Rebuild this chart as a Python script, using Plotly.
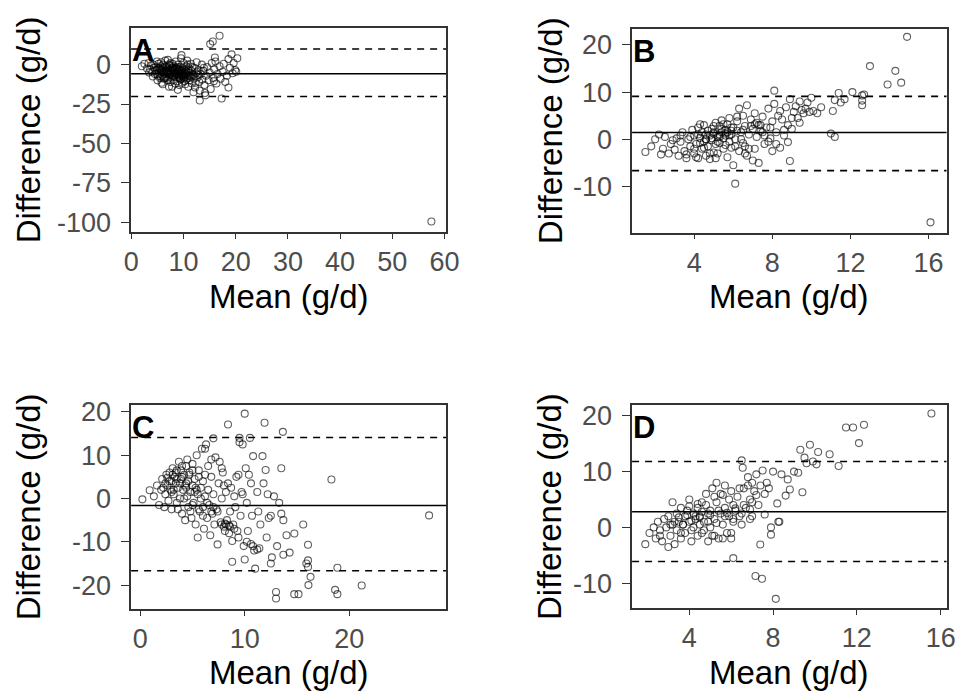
import plotly.graph_objects as go

# ---------------- Panel A ----------------
A_mean = [
    2.0, 2.5, 3.0, 3.3, 3.6, 3.8, 4.0, 4.2, 4.4, 4.5,
    4.7, 4.9, 5.0, 5.1, 5.2, 5.3, 5.4, 5.5, 5.6, 5.7,
    5.8, 5.9, 6.0, 6.1, 6.2, 6.3, 6.4, 6.5, 6.6, 6.7,
    6.8, 6.9, 7.0, 7.0, 7.1, 7.2, 7.3, 7.4, 7.5, 7.5,
    7.6, 7.7, 7.8, 7.9, 8.0, 8.0, 8.1, 8.2, 8.3, 8.4,
    8.5, 8.5, 8.6, 8.7, 8.8, 8.9, 9.0, 9.0, 9.1, 9.2,
    9.3, 9.4, 9.5, 9.5, 9.6, 9.7, 9.8, 9.9, 10.0, 10.0,
    10.1, 10.2, 10.3, 10.4, 10.5, 10.5, 10.6, 10.7, 10.8, 10.9,
    11.0, 11.1, 11.2, 11.3, 11.4, 11.5, 11.6, 11.8, 12.0, 12.1,
    12.2, 12.4, 12.5, 12.7, 12.9, 13.0, 13.1, 13.3, 13.5, 13.6,
    13.8, 14.0, 14.1, 14.3, 14.5, 15.1, 14.8, 15.0, 15.2, 15.4,
    15.6, 15.7, 15.9, 16.1, 16.3, 16.5, 16.9, 16.9, 17.1, 17.3,
    17.5, 17.7, 18.0, 18.3, 18.6, 18.9, 19.2, 19.4, 19.6, 19.9,
    20.1, 20.3, 13.1, 11.9, 7.2, 6.0, 8.9, 9.6, 14.2, 57.5,
    5.5, 6.2, 6.9, 7.6, 8.3, 9.0, 9.7, 10.4, 11.1, 12.6,
    4.6, 6.5, 7.3, 8.1, 8.8, 9.4, 10.2, 11.7, 12.3, 15.8,
    3.4, 4.1, 5.0, 5.8, 7.8, 9.2, 10.8, 13.9, 16.0, 18.6,
    5.3, 5.9, 6.4, 7.0, 7.7, 8.2, 8.7, 9.3, 9.9, 10.6,
    6.0, 6.7, 7.4, 8.0, 8.6, 9.1, 9.8, 10.3, 11.0, 11.9,
    4.9, 5.6, 6.3, 7.1, 7.9, 8.5, 9.2, 10.1, 10.9, 12.8,
]
A_diff = [
    -1.0, 0.5, -2.5, 1.0, -3.0, -0.5, -4.5, 0.0, -2.0, -6.0,
    -1.5, 2.0, -3.5, -7.0, 0.5, -5.0, -2.5, -8.5, -1.0, 1.5,
    -4.0, -6.5, -2.0, 0.0, -9.0, -3.0, -5.5, 2.5, -7.5, -1.5,
    -4.5, -10.0, -2.5, 3.0, -6.0, -0.5, -8.0, -3.5, -11.0, 1.0,
    -5.0, -2.0, -7.0, 0.5, -9.5, -4.0, -1.0, -6.5, -3.0, -12.0,
    -5.5, 2.0, -8.0, -2.5, -10.5, -4.5, 0.0, -7.0, -3.5, -13.0,
    -6.0, -1.5, -9.0, 4.0, -4.0, -11.5, -2.0, -7.5, -5.0, 1.0,
    -8.5, -3.0, -12.5, -6.0, -1.0, -9.5, -4.5, 2.5, -7.0, -14.0,
    -5.0, -2.5, -10.0, -7.5, 0.5, -4.0, -12.0, -6.5, -9.0, -2.0,
    -14.5, -5.5, 1.5, -8.0, -3.5, -11.0, -16.5, -6.0, 0.0, -9.5,
    -4.0, -13.0, -18.0, -7.0, -1.5, 13.0, -10.0, -5.0, -15.5, 1.0,
    14.7, -8.5, -3.0, 2.0, -12.0, -6.0, 18.3, -1.0, -9.0, -21.5,
    -4.5, 0.5, -11.0, -7.0, 3.5, -2.0, 6.5, -5.5, 1.0, -3.5,
    -4.5, 4.0, -22.8, -17.5, -14.0, -12.5, -16.0, 6.0, -19.5, -99.5,
    -3.0, -4.5, -5.5, -6.0, -5.0, -6.5, -5.5, -4.0, -7.0, -4.5,
    -3.5, -8.5, 0.0, -2.0, -1.5, -9.5, -10.5, -1.5, -11.5, -10.5,
    -5.0, -7.5, -10.0, -11.5, -14.0, -3.0, 0.0, -2.0, 4.5, -14.5,
    -2.0, -3.5, -1.0, -4.0, -2.5, -5.0, -3.0, -4.5, -6.5, -5.5,
    -5.0, -4.0, -6.5, -7.5, -6.0, -8.0, -7.0, -8.0, -8.5, -7.0,
    -6.0, -7.5, -8.5, -9.0, -3.0, -2.0, -8.5, -6.5, -3.5, -6.5,
]
A_bias, A_upper, A_lower = -5.8, 9.9, -20.2

# ---------------- Panel B ----------------
B_mean = [
    1.5, 1.8, 2.0, 2.2, 2.4, 2.5, 2.7, 2.8, 3.0, 3.1,
    3.2, 3.3, 3.4, 3.5, 3.6, 3.7, 3.8, 3.9, 4.0, 4.0,
    4.1, 4.2, 4.2, 4.3, 4.4, 4.4, 4.5, 4.5, 4.6, 4.6,
    4.7, 4.7, 4.8, 4.8, 4.9, 4.9, 5.0, 5.0, 5.1, 5.1,
    5.2, 5.2, 5.3, 5.3, 5.4, 5.4, 5.5, 5.5, 5.6, 5.6,
    5.7, 5.7, 5.8, 5.8, 5.9, 5.9, 6.0, 6.0, 6.1, 6.2,
    6.3, 6.3, 6.4, 6.5, 6.5, 6.6, 6.7, 6.7, 6.8, 6.9,
    7.0, 7.0, 7.1, 7.2, 7.2, 7.3, 7.4, 7.5, 7.6, 7.7,
    7.8, 7.9, 8.0, 8.0, 8.1, 8.2, 8.3, 8.4, 8.5, 8.6,
    8.7, 8.8, 8.9, 9.0, 9.1, 9.2, 9.3, 9.4, 9.5, 9.6,
    9.7, 9.8, 9.9, 10.0, 10.1, 10.3, 10.5, 11.0, 11.1, 11.2,
    11.2, 11.4, 11.5, 11.7, 12.1, 12.6, 12.6, 12.6, 12.7, 13.0,
    13.9, 14.3, 14.6, 14.9, 16.1, 6.1, 8.9, 8.1, 6.6, 7.1,
    3.8, 4.3, 4.6, 4.9, 5.2, 5.4, 5.6, 5.9, 6.1, 6.4,
    4.0, 4.5, 4.8, 5.0, 5.3, 5.5, 5.8, 6.2, 6.6, 7.4,
    2.3, 2.9, 3.3, 3.6, 4.1, 4.3, 5.1, 5.7, 6.9, 7.8,
    7.3, 7.6, 8.2, 8.4, 8.6, 8.8, 9.0, 6.8, 7.9, 9.4,
    4.2, 4.6, 5.0, 5.3, 5.6, 5.9, 6.2, 6.5, 7.1, 7.5,
]
B_diff = [
    -2.7, -1.5, 0.0, 1.0, -2.0, 0.5, -3.0, -1.0, -2.2, 0.2,
    -3.5, -0.5, 1.5, -2.5, -4.0, 0.0, -1.5, 2.0, -3.0, 0.8,
    -1.0, 2.5, -4.0, 0.3, -2.0, 1.5, -0.5, 3.0, -3.5, 0.0,
    1.8, -1.5, 0.8, -4.2, 2.2, -0.2, -2.8, 1.2, 3.5, -1.0,
    0.5, -3.0, 2.8, -0.8, 1.5, 4.0, -2.0, 0.2, 2.0, -1.2,
    3.2, -3.8, 0.8, 4.5, -1.8, 1.8, -5.5, 2.5, 0.0, 3.8,
    -2.5, 6.5, 1.5, 5.0, -0.8, 2.8, 7.2, -3.5, 1.0, 4.2,
    -4.5, 2.2, 5.5, 0.5, 3.5, -5.0, 1.8, 4.8, -1.0, 2.5,
    6.5, 0.2, 3.8, -2.5, 7.5, 1.5, 5.0, -1.8, 4.2, 2.0,
    6.8, 3.0, 8.5, 2.2, 5.8, 7.0, 4.5, 8.0, 6.2, 5.5,
    6.5, 7.8, 5.8, 8.8, 6.0, 5.5, 6.8, 1.2, 6.0, 0.5,
    8.3, 9.8, 7.8, 8.5, 10.0, 9.3, 8.2, 7.2, 9.5, 15.5,
    11.6, 14.5, 12.0, 21.7, -17.6, -9.4, -4.6, 10.3, -3.0, -2.0,
    0.5, -0.8, 1.0, 0.2, -0.5, 2.2, 0.8, 1.0, -1.5, 0.0,
    -2.0, -1.8, -3.0, 2.8, 1.0, 3.2, -0.5, 4.8, -1.5, 3.0,
    -3.2, -0.2, 0.8, -3.2, -3.8, 3.2, -4.0, 1.5, 2.8, -0.5,
    3.0, 0.8, -1.0, 6.0, 0.8, -0.6, 4.5, -2.0, 2.5, 3.5,
    1.0, 0.0, 1.5, 0.5, 1.2, 2.5, 1.8, 2.0, 3.2, 1.5,
]
B_bias, B_upper, B_lower = 1.45, 9.1, -6.65

# ---------------- Panel C ----------------
C_mean = [
    0.2, 0.9, 1.3, 1.6, 1.8, 2.0, 2.1, 2.3, 2.4, 2.5,
    2.6, 2.7, 2.8, 2.9, 3.0, 3.0, 3.1, 3.2, 3.3, 3.4,
    3.5, 3.5, 3.6, 3.7, 3.8, 3.9, 4.0, 4.0, 4.1, 4.2,
    4.3, 4.4, 4.5, 4.5, 4.6, 4.7, 4.8, 4.9, 5.0, 5.0,
    5.1, 5.2, 5.3, 5.4, 5.5, 5.5, 5.6, 5.7, 5.8, 5.9,
    6.0, 6.0, 6.1, 6.2, 6.3, 6.4, 6.5, 6.5, 6.6, 6.7,
    6.8, 6.9, 7.0, 7.0, 7.1, 7.2, 7.3, 7.4, 7.5, 7.6,
    7.7, 7.8, 7.9, 8.0, 8.0, 8.1, 8.2, 8.3, 8.4, 8.5,
    8.6, 8.7, 8.8, 8.8, 8.9, 9.0, 9.1, 9.2, 9.3, 9.4,
    9.5, 9.5, 9.6, 9.7, 9.8, 9.9, 10.0, 10.0, 10.1, 10.2,
    10.3, 10.4, 10.5, 10.6, 10.7, 10.8, 10.9, 11.0, 11.2, 11.3,
    11.4, 11.5, 11.7, 11.8, 11.9, 12.0, 12.1, 12.3, 12.5, 12.6,
    12.8, 13.0, 13.0, 13.1, 13.3, 13.5, 13.5, 13.7, 13.7, 14.0,
    13.65, 14.3, 14.75, 14.74, 15.15, 15.6, 15.9, 16.06, 16.06, 16.06,
    16.3, 16.1, 18.3, 18.65, 18.87, 18.87, 21.2, 27.65, 6.2, 12.5,
    2.2, 2.6, 3.0, 3.4, 3.8, 4.2, 4.6, 5.0, 5.4, 5.8,
    3.2, 3.6, 4.0, 4.4, 4.8, 5.2, 5.6, 6.0, 6.4, 6.8,
    7.0, 7.4, 7.8, 8.2, 8.6, 9.0, 9.4, 10.2, 10.8, 11.2,
    4.4, 5.0, 5.6, 6.2, 6.8, 7.8, 8.4, 9.8, 10.6, 12.2,
    2.4, 2.8, 3.1, 3.5, 3.9, 4.3, 4.7, 5.3, 8.1, 8.5,
]
C_diff = [
    -0.2, 1.9, 0.5, 3.0, -1.5, 2.0, 4.5, -2.0, 1.0, 5.5,
    3.0, -0.5, 6.0, 2.0, 4.0, -2.5, 7.0, 1.0, 5.0, 3.5,
    -1.0, 6.5, 2.5, 8.5, 0.0, 4.5, -3.5, 7.5, 2.0, 5.5,
    -5.0, 3.5, 9.0, 0.5, -2.0, 6.0, 1.5, -4.5, 8.0, 3.0,
    -1.0, 4.5, -6.0, 10.0, 1.0, -9.0, 6.5, -3.0, 2.5, 11.5,
    -2.0, 4.0, -7.0, 0.5, 12.5, -4.5, 2.0, 7.5, -1.5, -8.5,
    5.0, -3.5, 13.9, 1.0, -6.0, 9.5, -2.5, -10.6, 3.5, 8.5,
    -5.5, 0.0, 6.0, -6.5, 3.0, -7.5, 1.5, -5.0, 17.1, -8.0,
    -3.0, 2.5, -9.8, -14.6, -6.0, 0.5, -2.0, 5.0, -7.5, 5.5,
    14.0, 13.0, -4.0, 1.5, 12.5, -11.0, 19.6, -14.1, 7.0, -1.0,
    -7.5, 5.5, 14.0, -10.5, -4.0, 9.8, -12.0, -16.2, 1.5, -3.0,
    -11.5, -6.0, 9.8, 3.5, 17.5, 6.6, -9.0, -4.5, -15.0, -13.6,
    0.5, -21.6, -23.1, -11.0, -1.0, 7.0, -3.5, -13.0, -5.0, -8.5,
    15.4, -12.5, -8.1, -22.1, -22.1, -6.0, -15.0, -10.7, -14.3, -15.8,
    -18.1, -20.0, 4.4, -21.1, -22.1, -16.0, -20.1, -3.9, 11.5, -4.0,
    2.5, 4.8, 1.5, 6.0, 3.5, 0.0, 4.0, -1.5, 2.0, 0.0,
    2.0, -2.5, 5.0, 2.5, -3.0, 1.5, -2.5, -4.0, -1.0, -3.0,
    -2.0, -3.0, -6.0, -6.0, -6.5, -7.0, -9.0, -10.0, -11.0, -11.8,
    7.5, 6.5, 5.0, 5.5, 9.0, 7.0, 3.5, 1.0, 3.5, 1.0,
    3.5, 4.0, 5.5, 4.5, 6.5, 3.0, 5.5, 2.5, -5.8, -6.2,
]
C_bias, C_upper, C_lower = -1.6, 14.1, -16.7

# ---------------- Panel D ----------------
D_mean = [
    1.9, 2.1, 2.3, 2.4, 2.5, 2.6, 2.7, 2.8, 2.9, 3.0,
    3.0, 3.1, 3.2, 3.2, 3.3, 3.4, 3.4, 3.5, 3.6, 3.6,
    3.7, 3.8, 3.8, 3.9, 4.0, 4.0, 4.1, 4.2, 4.2, 4.3,
    4.4, 4.4, 4.5, 4.5, 4.6, 4.7, 4.7, 4.8, 4.9, 4.9,
    5.0, 5.0, 5.1, 5.2, 5.2, 5.3, 5.3, 5.4, 5.5, 5.5,
    5.6, 5.7, 5.7, 5.8, 5.9, 5.9, 6.0, 6.1, 6.1, 6.2,
    6.3, 6.4, 6.5, 6.6, 6.7, 6.8, 6.9, 7.0, 7.0, 7.1,
    7.2, 7.3, 7.4, 7.5, 7.6, 7.7, 7.9, 8.0, 8.2, 8.3,
    8.6, 8.7, 8.8, 9.0, 9.3, 9.4, 9.5, 9.76, 10.07, 10.15,
    10.7, 11.13, 11.48, 11.82, 12.1, 12.34, 15.56, 8.13, 7.16, 7.47,
    6.1, 7.39, 6.55, 8.25, 7.9, 9.6, 9.2, 8.4, 7.8, 9.9,
    3.5, 3.9, 4.3, 4.6, 5.0, 5.4, 5.8, 6.2, 6.6, 7.0,
    2.6, 3.1, 3.6, 4.1, 4.6, 5.1, 5.6, 6.0, 6.5, 6.9,
    4.0, 4.4, 4.8, 5.2, 5.6, 6.0, 6.4, 6.8, 7.2, 7.6,
    3.3, 3.7, 4.1, 4.5, 4.9, 5.3, 5.7, 6.1, 6.5, 6.9,
]
D_diff = [
    -3.0, -1.0, 0.0, -2.0, 1.0, -0.5, -2.5, 1.5, 0.0, -3.5,
    2.0, -1.5, 4.5, 0.5, -3.0, 2.5, -0.5, 1.0, 3.5, -2.0,
    0.5, 2.0, -1.0, 3.0, 1.0, 5.0, -2.5, 2.5, 0.0, 1.5,
    3.5, -1.5, 0.5, 2.0, 4.5, -0.5, 1.0, 6.0, -2.5, 2.5,
    0.0, 3.0, 7.0, 1.5, -1.5, 4.5, 8.0, -2.0, 2.5, 6.0,
    0.5, 3.5, 7.5, -1.0, 2.0, 5.0, -2.0, 1.0, 4.0, 3.0,
    5.5, 2.0, 12.0, 7.0, 3.5, 9.0, 5.0, 2.0, 8.0, 6.5,
    9.5, 4.0, 7.5, 10.2, 2.3, 8.0, -1.3, 10.0, 4.3, 1.0,
    5.7, 8.6, 6.8, 10.0, 13.9, 6.3, 12.5, 14.8, 11.3, 13.5,
    13.1, 11.0, 17.9, 17.9, 15.1, 18.4, 20.4, -12.8, -8.7, -9.2,
    -5.5, -3.05, 10.7, 1.0, 0.0, 11.5, 9.8, 9.5, 7.0, 11.8,
    1.8, 2.2, 2.0, 2.8, 2.2, 3.0, 2.6, 3.4, 4.0, 4.5,
    -1.5, 0.5, -1.0, -0.5, -1.0, -1.5, -2.0, -1.0, 0.5, 1.5,
    3.8, 4.2, 4.0, 5.5, 5.8, 6.5, 7.0, 7.5, 5.8, 6.0,
    1.0, 0.5, 1.2, 1.8, 1.0, 0.8, 2.0, 1.5, 2.5, 3.2,
]
D_bias, D_upper, D_lower = 2.8, 11.8, -6.1

# tick values
A_xticks = [0, 10, 20, 30, 40, 50, 60]
A_yticks = [-100, -75, -50, -25, 0]
B_xticks = [4, 8, 12, 16]
B_yticks = [-10, 0, 10, 20]
C_xticks = [0, 10, 20]
C_yticks = [-20, -10, 0, 10, 20]
D_xticks = [4, 8, 12, 16]
D_yticks = [-10, 0, 10, 20]

panel_labels = ["A", "B", "C", "D"]
x_title = "Mean (g/d)"
y_title = "Difference (g/d)"

FONT = "Liberation Sans, Arial, sans-serif"
TICK_COLOR = "#4d4d4d"
LINE_COLOR = "#333333"

panels = [
    dict(mean=A_mean, diff=A_diff, bias=A_bias, up=A_upper, lo=A_lower,
         xr=[-0.05, 60.3], yr=[-106.2, 23.0], xt=A_xticks, yt=A_yticks,
         xd=[0.1308, 0.4626], yd=[0.6729, 0.9703], ytx=-103),
    dict(mean=B_mean, diff=B_diff, bias=B_bias, up=B_upper, lo=B_lower,
         xr=[0.82, 16.92], yr=[-19.8, 23.3], xt=B_xticks, yt=B_yticks,
         xd=[0.6587, 0.9900], yd=[0.6719, 0.9689], ytx=-82),
    dict(mean=C_mean, diff=C_diff, bias=C_bias, up=C_upper, lo=C_lower,
         xr=[-0.875, 29.27], yr=[-25.5, 21.5], xt=C_xticks, yt=C_yticks,
         xd=[0.1308, 0.4626], yd=[0.1228, 0.4198], ytx=-103),
    dict(mean=D_mean, diff=D_diff, bias=D_bias, up=D_upper, lo=D_lower,
         xr=[1.27, 16.28], yr=[-14.5, 21.85], xt=D_xticks, yt=D_yticks,
         xd=[0.6587, 0.9900], yd=[0.1236, 0.4198], ytx=-82),
]

fig = go.Figure()
layout = dict(
    width=969, height=698,
    margin=dict(l=0, r=0, t=0, b=0),
    paper_bgcolor="white", plot_bgcolor="white",
    showlegend=False,
    font=dict(family=FONT),
    shapes=[], annotations=[],
)

for i, p in enumerate(panels):
    n = "" if i == 0 else str(i + 1)
    xa, ya = "x" + n, "y" + n
    fig.add_trace(go.Scatter(
        x=p["mean"], y=p["diff"], mode="markers", xaxis=xa, yaxis=ya,
        marker=dict(symbol="circle-open", size=7, color="rgba(0,0,0,0.62)",
                    line=dict(width=1.1, color="rgba(0,0,0,0.62)")),
        hoverinfo="skip",
    ))
    layout["xaxis" + n] = dict(
        domain=p["xd"], range=p["xr"], anchor=ya,
        tickmode="array", tickvals=p["xt"], ticktext=[str(v) for v in p["xt"]],
        ticks="outside", ticklen=5,
        tickwidth=1.3, tickcolor=LINE_COLOR, ticklabelstandoff=0,
        tickfont=dict(size=27, color=TICK_COLOR, family=FONT),
        showline=True, mirror=True, linecolor=LINE_COLOR, linewidth=1.5,
        showgrid=False, zeroline=False,
    )
    layout["yaxis" + n] = dict(
        domain=p["yd"], range=p["yr"], anchor=xa,
        tickmode="array", tickvals=p["yt"], ticktext=[str(v) for v in p["yt"]],
        ticks="outside", ticklen=8,
        tickwidth=1.3, tickcolor=LINE_COLOR, ticklabelstandoff=5,
        tickfont=dict(size=27, color=TICK_COLOR, family=FONT),
        showline=True, mirror=True, linecolor=LINE_COLOR, linewidth=1.5,
        showgrid=False, zeroline=False,
    )
    xdom = xa + " domain"
    for val, dash in [(p["bias"], "solid"), (p["up"], "7px,6px"), (p["lo"], "7px,6px")]:
        layout["shapes"].append(dict(
            type="line", xref=xdom, yref=ya, x0=0, x1=1, y0=val, y1=val,
            line=dict(color="black", width=1.6, dash=dash), layer="above",
        ))
    ydom = ya + " domain"
    layout["annotations"].append(dict(
        text="<b>%s</b>" % panel_labels[i], xref=xdom, yref=ydom, x=0, y=1,
        xanchor="left", yanchor="top", showarrow=False, xshift=-1, yshift=-3,
        font=dict(size=31, color="black", family=FONT),
    ))
    layout["annotations"].append(dict(
        text=x_title, xref=xdom, yref=ydom, x=0.5, y=0,
        xanchor="center", yanchor="middle", showarrow=False, yshift=-64,
        font=dict(size=33, color="black", family=FONT),
    ))
    layout["annotations"].append(dict(
        text=y_title, xref=xdom, yref=ydom, x=0, y=0.5, textangle=-90,
        xanchor="center", yanchor="middle", showarrow=False, xshift=p["ytx"],
        font=dict(size=33, color="black", family=FONT),
    ))

fig.update_layout(**layout)
fig.write_html(
    "out.html",
    config={"displayModeBar": False},
    post_script="document.body.style.margin='0';document.body.style.overflow='hidden';",
)
